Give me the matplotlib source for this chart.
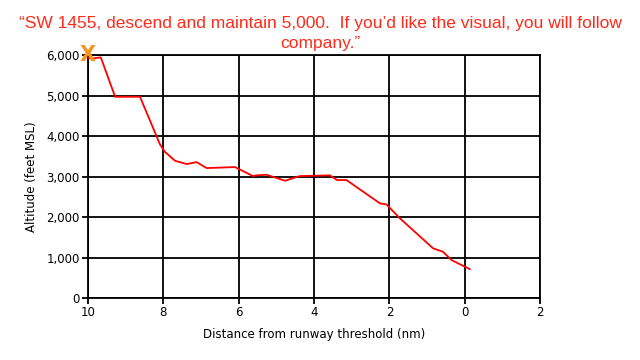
import matplotlib
matplotlib.use("Agg")
import matplotlib.pyplot as plt
from matplotlib.ticker import FuncFormatter

distance_nm = [10.0, 9.86, 9.66, 9.28, 8.62, 8.09, 7.96, 7.69, 7.38, 7.12, 6.85, 6.10,
               5.62, 5.53, 5.26, 4.77, 4.38, 3.58, 3.39, 3.14, 2.25, 2.08, 1.72,
               0.84, 0.58, 0.35, -0.13]
altitude_ft = [5920, 5918, 5943, 4970, 4970, 3795, 3612, 3390, 3309, 3358, 3210, 3235,
               3012, 3030, 3045, 2897, 3012, 3030, 2914, 2914, 2338, 2313, 1968,
               1227, 1144, 938, 716]
x_ticks = [10, 8, 6, 4, 2, 0, -2]
y_ticks = [0, 1000, 2000, 3000, 4000, 5000, 6000]
title_line1 = "\u201cSW 1455, descend and maintain 5,000.  If you\u2019d like the visual, you will follow"
title_line2 = "company.\u201d"

fig = plt.figure(figsize=(6.4, 3.6), dpi=100)
ax = fig.add_axes([0.1375, 0.172, 0.7065, 0.675])
ax.set_xlim(10, -2)
ax.set_ylim(0, 6000)
ax.set_xticks(x_ticks)
ax.set_yticks(y_ticks)
ax.xaxis.set_major_formatter(FuncFormatter(lambda v, p: f"{abs(v):.0f}"))
ax.yaxis.set_major_formatter(FuncFormatter(lambda v, p: f"{v:,.0f}"))
ax.grid(True, color="black", linewidth=1.3)
for s in ax.spines.values():
    s.set_color("black")
    s.set_linewidth(1.3)
ax.tick_params(axis="both", length=4, width=1.3, color="black", labelsize=8.5, pad=2)

ax.plot(distance_nm, altitude_ft, color="#FF0000", linewidth=1.3, zorder=3)
ax.text(10, 6000, "X", color="#F7941D", fontsize=15, fontweight="bold",
        ha="center", va="center", zorder=4, clip_on=False)

ax.set_xlabel("Distance from runway threshold (nm)", fontsize=8.5, labelpad=6)
ax.set_ylabel("Altitude (feet MSL)", fontsize=8.5, labelpad=6)

fig.text(0.5, 1 - 28 / 360, title_line1, color="#FF2A1A", fontsize=12.5, ha="center",
         va="baseline", family="Liberation Sans")
fig.text(0.5, 1 - 48 / 360, title_line2, color="#FF2A1A", fontsize=12.5, ha="center",
         va="baseline", family="Liberation Sans")

fig.savefig("out.png", dpi=100)
